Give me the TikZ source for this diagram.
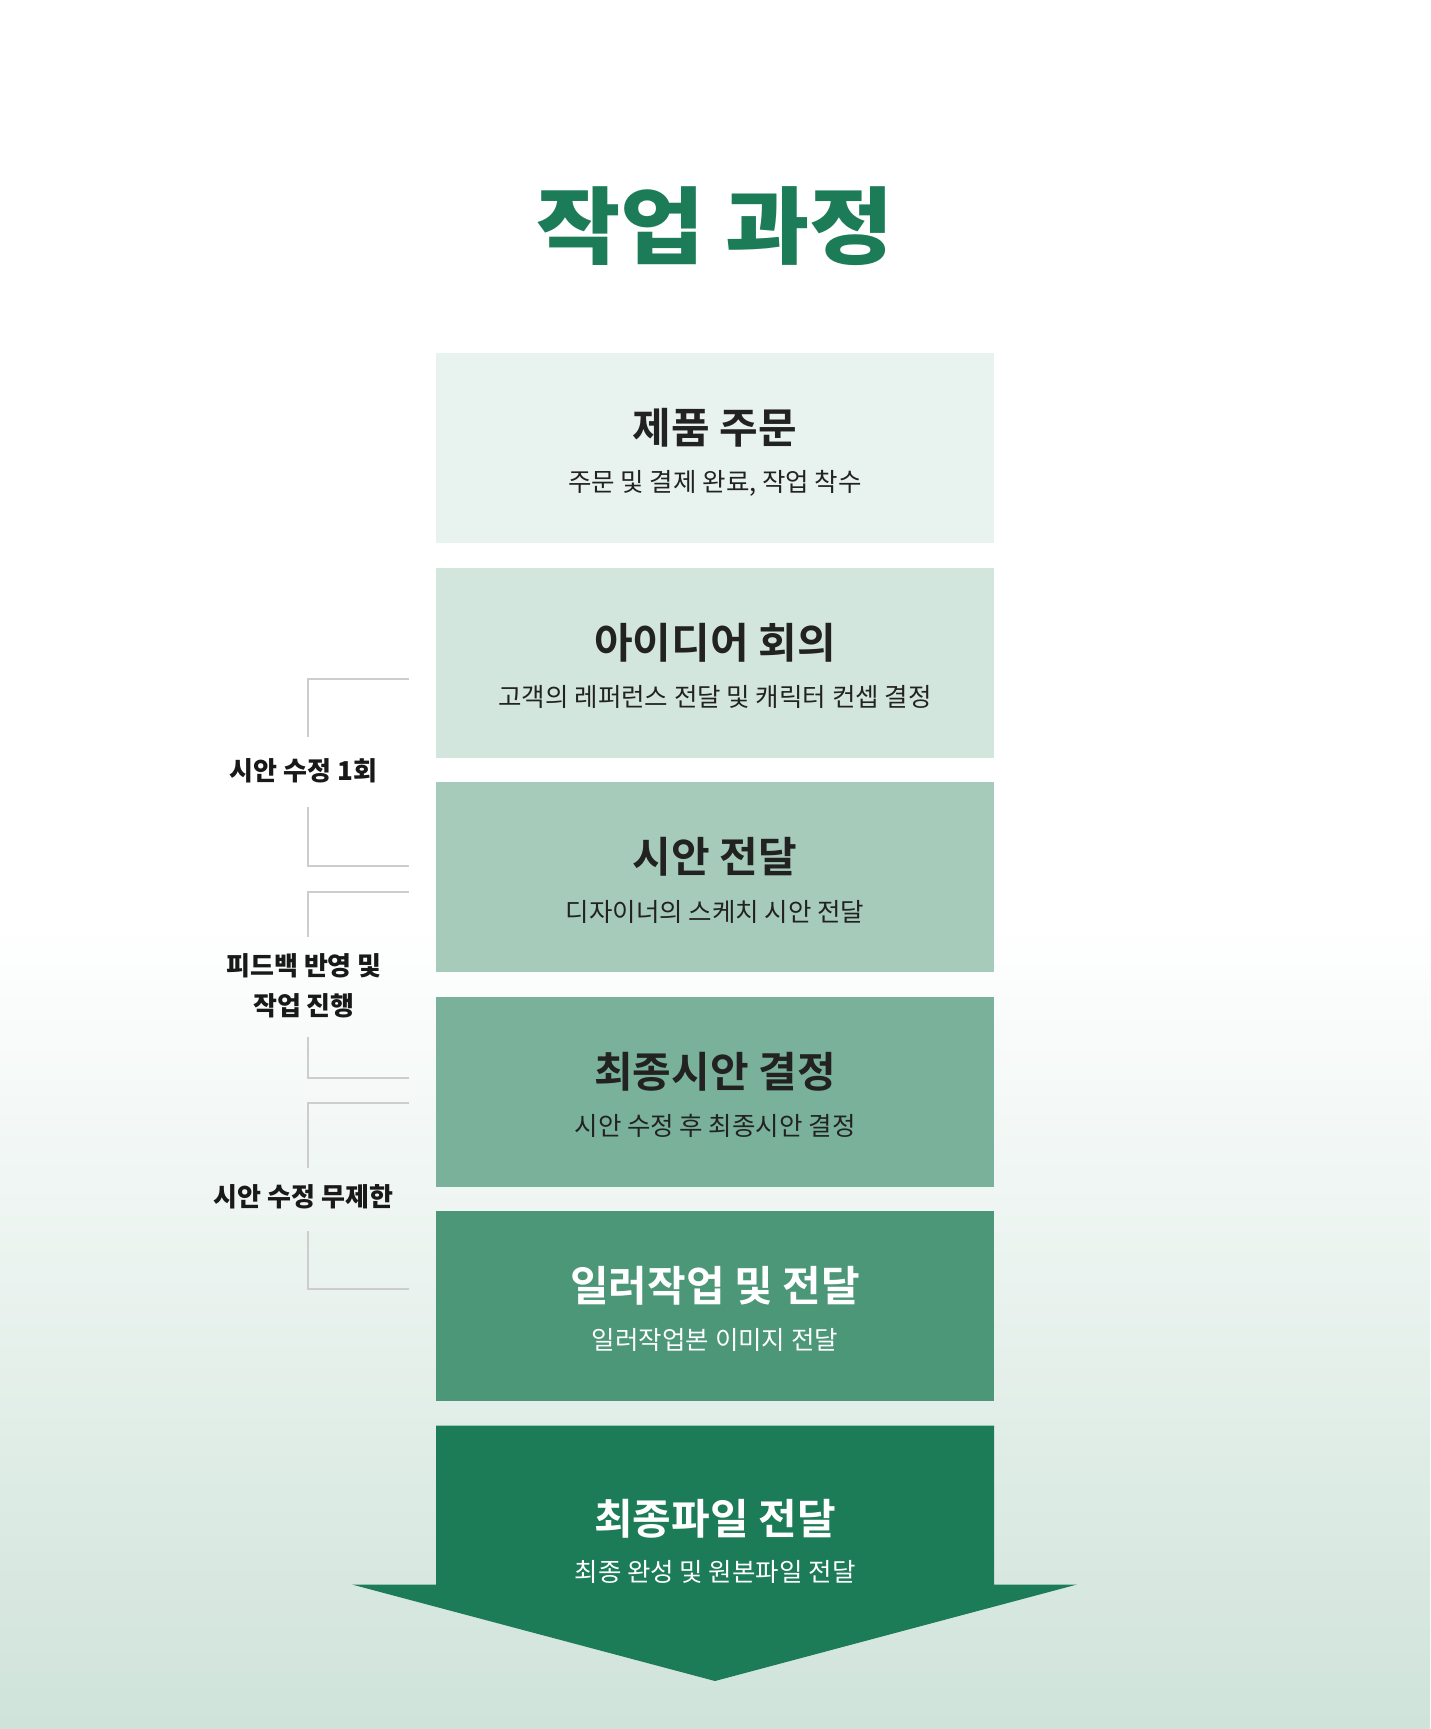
\documentclass[tikz,border=0pt]{standalone}
\usepackage{fontspec}
\usepackage{graphicx}
\newfontfamily\krreg{Noto Sans CJK KR}
\newfontfamily\krbold{Noto Sans CJK KR Bold}
\newfontfamily\krblack{Noto Sans CJK KR Black}
\definecolor{titlegreen}{HTML}{1C7C58}
\definecolor{bA}{HTML}{E8F2EE}
\definecolor{bB}{HTML}{D3E6DD}
\definecolor{bC}{HTML}{A6CBBB}
\definecolor{bD}{HTML}{79B19A}
\definecolor{bE}{HTML}{4B9778}
\definecolor{bF}{HTML}{1C7C58}
\definecolor{bgbot}{HTML}{CFE3DA}
\definecolor{darktext}{HTML}{222222}
\definecolor{brk}{HTML}{CDCDCD}
\tikzset{
  stepbox/.style={rectangle, draw=none, minimum width=558pt, minimum height=190pt, inner sep=0pt, anchor=north},
  boxtitle/.style={inner sep=0pt, text=darktext, font=\krbold\fontsize{42}{50}\selectfont},
  boxsub/.style={inner sep=0pt, text=darktext, font=\krreg\fontsize{25.5}{30}\selectfont},
  sidelabel/.style={inner sep=0pt, text=black!90, font=\krblack\fontsize{26}{32}\selectfont},
  bracketline/.style={draw=brk, line width=2.5pt},
}
\begin{document}
\begin{tikzpicture}[x=1pt,y=-1pt]
\useasboundingbox (0,0) rectangle (1430,1729);
% background
\fill[white] (0,0) rectangle (1430,921);
\shade[top color=white, bottom color=bgbot] (0,920) rectangle (1430,1729);
% title
\node[inner sep=0pt, text=titlegreen, font=\krblack\fontsize{84}{90}\selectfont] (title) at (715,226) {\scalebox{1.09}[1]{작업 과정}};
% boxes
\node[stepbox, fill=bA] (b1) at (715,353) {};
\node[stepbox, fill=bB] (b2) at (715,567.5) {};
\node[stepbox, fill=bC] (b3) at (715,782) {};
\node[stepbox, fill=bD] (b4) at (715,996.5) {};
\node[stepbox, fill=bE] (b5) at (715,1210.5) {};
% final arrow
\fill[bF] (436,1425.5) -- (994,1425.5) -- (994,1584.5) -- (1077,1584.5) -- (715,1681) -- (352,1584.5) -- (436,1584.5) -- cycle;
\coordinate (b6) at (715,1425.5);
% texts
\node[boxtitle] (t1) at (715,428) {제품 주문};
\node[boxsub] (s1) at (715,483) {주문 및 결제 완료, 작업 착수};
\node[boxtitle] (t2) at (715,642.5) {아이디어 회의};
\node[boxsub] (s2) at (715,697) {고객의 레퍼런스 전달 및 캐릭터 컨셉 결정};
\node[boxtitle] (t3) at (715,857) {시안 전달};
\node[boxsub] (s3) at (715,911.5) {디자이너의 스케치 시안 전달};
\node[boxtitle] (t4) at (715,1071.5) {최종시안 결정};
\node[boxsub] (s4) at (715,1126) {시안 수정 후 최종시안 결정};
\node[boxtitle, text=white] (t5) at (715,1285.5) {일러작업 및 전달};
\node[boxsub, text=white] (s5) at (715,1340) {일러작업본 이미지 전달};
\node[boxtitle, text=white] (t6) at (715,1519) {최종파일 전달};
\node[boxsub, text=white] (s6) at (715,1572) {최종 완성 및 원본파일 전달};
% side labels
\node[sidelabel] (l1) at (303.5,771) {시안 수정 1회};
\node[sidelabel] (l2a) at (304,965.5) {피드백 반영 및};
\node[sidelabel] (l2b) at (304,1005.5) {작업 진행};
\node[sidelabel] (l3) at (303.5,1197) {시안 수정 무제한};
% brackets
\draw[bracketline] (409,679) -- (308,679) -- (308,737);
\draw[bracketline] (308,807) -- (308,866) -- (409,866);
\draw[bracketline] (409,892) -- (308,892) -- (308,937);
\draw[bracketline] (308,1037) -- (308,1078) -- (409,1078);
\draw[bracketline] (409,1103) -- (308,1103) -- (308,1168);
\draw[bracketline] (308,1231) -- (308,1289) -- (409,1289);
\end{tikzpicture}
\end{document}
